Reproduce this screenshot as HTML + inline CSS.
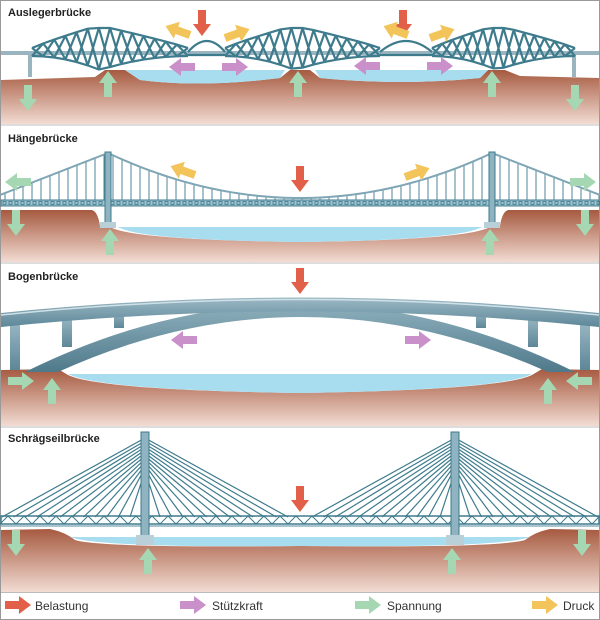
<!DOCTYPE html>
<html><head><meta charset="utf-8"><style>
html,body{margin:0;padding:0;background:#fff}
svg{display:block}
text{font-family:"Liberation Sans",sans-serif}
.t{font-weight:bold;font-size:11px;fill:#222}
.l{font-size:12px;fill:#333}
</style></head><body>
<svg id="s" width="600" height="620" viewBox="0 0 600 620" xmlns="http://www.w3.org/2000/svg">
<defs>
<linearGradient id="g" x1="0" y1="0" x2="0" y2="1"><stop offset="0" stop-color="#a65a40"/><stop offset="1" stop-color="#f2dcd3"/></linearGradient>
<linearGradient id="dk" x1="0" y1="0" x2="0" y2="1"><stop offset="0" stop-color="#9cb9c5"/><stop offset="1" stop-color="#5d8798"/></linearGradient>
<linearGradient id="ar" x1="0" y1="0" x2="0" y2="1"><stop offset="0" stop-color="#8fb0bd"/><stop offset="1" stop-color="#4f7a8b"/></linearGradient>
<path id="a" d="M0,-4 L14,-4 L14,-9 L26,0 L14,9 L14,4 L0,4 Z"/>
</defs>
<rect x="0.5" y="0.5" width="599" height="619" fill="#fff" stroke="#999"/>

<!-- Panel 1 -->
<path d="M1,80 L95,77 L105,70 L125,70 L140,80 Q200,88 280,78 L290,70 L310,70 L320,78 Q400,86 480,78 L488,70 L505,70 L520,76 L599,78 L599,124 L1,124 Z" fill="url(#g)"/>
<path d="M125,70 L285,70 L280,78 Q200,88 140,80 Z M315,70 L488,70 L480,78 Q400,86 320,78 Z" fill="#a8dcef"/>
<rect x="1" y="51" width="598" height="4" fill="#9ab5c0"/>
<rect x="28" y="52" width="4" height="25" fill="#9ab5c0"/>
<rect x="572" y="52" width="4" height="25" fill="#9ab5c0"/>
<g id="tr" fill="none" stroke="#3e7b8c" stroke-width="2.2"></g>
<text class="t" x="8" y="16">Auslegerbrücke</text>
<rect x="1" y="124" width="598" height="2" fill="#ddd"/>

<!-- Panel 2 -->
<path d="M1,210 L92,210 Q98,212 100,226 L112,228 Q140,240 300,242 Q460,240 488,228 L500,226 Q502,212 508,210 L599,210 L599,262 L1,262 Z" fill="url(#g)"/>
<path d="M118,227 L482,227 Q460,240 300,242 Q140,240 118,227Z" fill="#a8dcef"/>
<g id="sus"></g>
<text class="t" x="8" y="142">Hängebrücke</text>
<rect x="1" y="262" width="598" height="2" fill="#ddd"/>

<!-- Panel 3 -->
<path d="M1,370 L58,369 L68,375 Q100,390 300,393 Q500,390 532,375 L542,369 L599,370 L599,426 L1,426 Z" fill="url(#g)"/>
<path d="M68,374 L532,374 Q500,390 300,393 Q100,390 68,374 Z" fill="#a8dcef"/>
<g fill="url(#dk)">
<rect x="10" y="320" width="10" height="50"/><rect x="62" y="315" width="10" height="32"/><rect x="114" y="310" width="10" height="18"/>
<rect x="580" y="320" width="10" height="50"/><rect x="528" y="315" width="10" height="32"/><rect x="476" y="310" width="10" height="18"/>
</g>
<path d="M25,372 Q300,236 575,372 L548,372 Q300,262 58,372 Z" fill="url(#ar)"/>
<path d="M1,313 Q300,282 599,313 L599,327 Q300,296 1,327 Z" fill="url(#dk)"/>
<path d="M1,315 Q300,284 599,315" stroke="#cfe0e6" stroke-width="1.5" fill="none"/>
<text class="t" x="8" y="280">Bogenbrücke</text>
<rect x="1" y="426" width="598" height="2" fill="#ddd"/>

<!-- Panel 4 -->
<path d="M1,530 L50,529 Q65,532 75,540 Q100,548 300,546 Q500,548 525,540 Q535,532 550,529 L599,530 L599,592 L1,592 Z" fill="url(#g)"/>
<path d="M70,537 L530,537 Q500,548 300,546 Q100,548 70,537 Z" fill="#a8dcef"/>
<g id="cs"></g>
<text class="t" x="8" y="442">Schrägseilbrücke</text>
<rect x="1" y="592" width="598" height="1" fill="#bbb"/>

<g id="arrows"></g>
<text class="l" x="35" y="610">Belastung</text>
<text class="l" x="212" y="610">Stützkraft</text>
<text class="l" x="387" y="610">Spannung</text>
<text class="l" x="563" y="610">Druck</text>
</svg>
<script>
var NS="http://www.w3.org/2000/svg";
function el(p,t,a){var e=document.createElementNS(NS,t);for(var k in a)e.setAttribute(k,a[k]);p.appendChild(e);return e;}
var tr=document.getElementById('tr');
function truss(x0,x1,cx){
 var top=function(x){var d=Math.abs(x-cx),h=(x<cx?cx-x0:x1-cx);var f=Math.max(0,1-Math.max(0,d-10)/(h-10));return 48-20*Math.pow(f,0.9);};
 var bot=function(x){var d=Math.abs(x-cx),h=(x<cx?cx-x0:x1-cx);var f=1-d/h;return 56+14*f*f;};
 var n=14,pt="",pb="",z="";
 for(var i=0;i<=n;i++){var x=x0+(x1-x0)*i/n;pt+=(i?"L":"M")+x+","+top(x);pb+=(i?"L":"M")+x+","+bot(x);}
 for(var i=0;i<n;i++){var xa=x0+(x1-x0)*i/n,xb=x0+(x1-x0)*(i+1)/n;z+="M"+xa+","+top(xa)+"L"+xb+","+bot(xb)+"M"+xa+","+bot(xa)+"L"+xb+","+top(xb);}
 el(tr,'path',{d:pt+pb+z});
}
truss(32,188,100);truss(225,380,295);truss(432,575,497);
el(tr,'path',{d:"M188,52 Q207,30 225,52 M380,52 Q406,30 432,52 M188,55 L225,55 M380,55 L432,55"});
var g=document.getElementById('sus');
el(g,'rect',{x:1,y:200,width:598,height:6,fill:"#9fc3d0",stroke:"#3e7b8c","stroke-width":1});
for(var x=3;x<600;x+=6)el(g,'rect',{x:x,y:201.5,width:3,height:3,fill:"none",stroke:"#3e7b8c","stroke-width":0.8});
function cab(x){if(x<108)return 195-(195-153)*(x/108);if(x>492)return 153+(195-153)*((x-492)/108);var t=(x-300)/192;return 198-45*t*t;}
for(var x=5;x<600;x+=9){if(Math.abs(x-108)<3||Math.abs(x-492)<3)continue;el(g,'line',{x1:x,y1:cab(x),x2:x,y2:200,stroke:"#4f8698","stroke-width":1});}
var d="";for(var x=0;x<=600;x+=3)d+=(x?"L":"M")+x+","+cab(x);
el(g,'path',{d:d,fill:"none",stroke:"#7fa6b4","stroke-width":2});
[108,492].forEach(function(x){el(g,'rect',{x:x-3,y:152,width:6,height:72,fill:"#8fb3c0",stroke:"#3e7b8c","stroke-width":1});el(g,'rect',{x:x-8,y:222,width:16,height:6,fill:"#b9d0d8"});});
var c=document.getElementById('cs');
[145,455].forEach(function(tx){
 for(var i=0;i<12;i++){var y=438+i*3;var f=(11-i)/11;
  el(c,'line',{x1:tx,y1:y,x2:tx-15-f*128,y2:517,stroke:"#3e7b8c","stroke-width":1.2});
  el(c,'line',{x1:tx,y1:y,x2:tx+15+f*128,y2:517,stroke:"#3e7b8c","stroke-width":1.2});}
});
el(c,'rect',{x:1,y:516,width:598,height:8,fill:"none",stroke:"#3e7b8c","stroke-width":1.5});
var z="";for(var x=0;x<600;x+=16)z+="M"+x+",524L"+(x+8)+",516L"+(x+16)+",524";
el(c,'path',{d:z,fill:"none",stroke:"#3e7b8c","stroke-width":1});
el(c,'rect',{x:1,y:525,width:598,height:2,fill:"#a9c4ce"});
[145,455].forEach(function(tx){el(c,'rect',{x:tx-4,y:432,width:8,height:104,fill:"#8fb3c0",stroke:"#3e7b8c","stroke-width":1});el(c,'rect',{x:tx-9,y:535,width:18,height:10,fill:"#b9d0d8"});});
var A=document.getElementById('arrows');
var R="#e2604a",P="#c990c9",G="#a5d8b2",Y="#f2c45a";
function ar(x,y,ang,col){el(A,'use',{href:"#a",fill:col,transform:"translate("+x+","+y+") rotate("+ang+")"});}
ar(202,10,90,R);ar(403,10,90,R);
ar(190,35,200,Y);ar(225,38,-20,Y);ar(408,35,200,Y);ar(430,38,-20,Y);
ar(195,67,180,P);ar(222,67,0,P);ar(380,66,180,P);ar(427,66,0,P);
ar(28,85,90,G);ar(108,97,-90,G);ar(298,97,-90,G);ar(492,97,-90,G);ar(575,85,90,G);
ar(31,182,180,G);ar(570,182,0,G);ar(16,210,90,G);ar(110,255,-90,G);ar(490,255,-90,G);ar(585,210,90,G);
ar(195,175,200,Y);ar(405,177,-20,Y);ar(300,166,90,R);
ar(300,268,90,R);ar(197,340,180,P);ar(405,340,0,P);
ar(8,381,0,G);ar(592,381,180,G);ar(52,404,-90,G);ar(548,404,-90,G);
ar(300,486,90,R);ar(16,530,90,G);ar(148,574,-90,G);ar(452,574,-90,G);ar(582,530,90,G);
ar(5,605,0,R);ar(180,605,0,P);ar(355,605,0,G);ar(532,605,0,Y);
</script>
</body></html>
